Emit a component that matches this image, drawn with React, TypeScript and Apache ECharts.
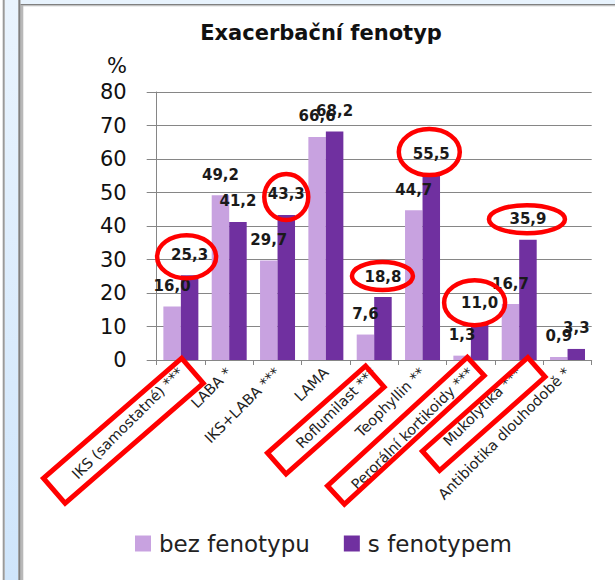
import React, { useEffect, useRef } from "react";
import * as echarts from "echarts";

const categories = [
  "IKS (samostatné) ***",
  "LABA *",
  "IKS+LABA ***",
  "LAMA",
  "Roflumilast ***",
  "Teophyllin **",
  "Perorální kortikoidy ***",
  "Mukolytika ***",
  "Antibiotika dlouhodobě *",
];
const bezFenotypu = [16.0, 49.2, 29.7, 66.6, 7.6, 44.7, 1.3, 16.7, 0.9];
const sFenotypem = [25.3, 41.2, 43.3, 68.2, 18.8, 55.5, 11.0, 35.9, 3.3];
const seriesNames = ["bez fenotypu", "s fenotypem"];
const yMin = 0;
const yMax = 80;
const yStep = 10;
const titleText = "Exacerbační fenotyp";
const yUnit = "%";

// red highlight overlays (category index, offsets relative to the dark-bar label)
const ellipses = [
  { i: 0, dx: -3, dy: 2.5, rx: 29.5, ry: 21.5 },
  { i: 2, dx: 0, dy: 3, rx: 22, ry: 23 },
  { i: 4, dx: -0.5, dy: 0, rx: 30.5, ry: 14 },
  { i: 5, dx: -2, dy: -1, rx: 30.5, ry: 23 },
  { i: 6, dx: -5, dy: 0.5, rx: 30.5, ry: 22.5 },
  { i: 7, dx: -1, dy: 0.5, rx: 38, ry: 14 },
];
const boxes = [
  { i: 0, dx: -57.5, dy: 70.8, w: 183, h: 33, rot: 41 },
  { i: 4, dx: -48.4, dy: 60, w: 131, h: 28, rot: 41.5 },
  { i: 6, dx: -65, dy: 70.8, w: 190, h: 25, rot: 42.6 },
  { i: 7, dx: -35.5, dy: 54, w: 141, h: 26, rot: 41.6 },
];

const FONT = "DejaVu Sans";
const LIGHT = "#c8a2e0";
const DARK = "#7030a0";
const GRID = { left: 156.7, right: 23.3, top: 92, bottom: 220 };
const CAT_GAP = 0.276;

const fmt = (v: number) => v.toFixed(1).replace(".", ",");

function frameGraphics(): any[] {
  return [
    { id: "f1", type: "rect", z: 0, shape: { x: 4.7, y: 0, width: 13.6, height: 580 },
      style: { fill: new echarts.graphic.LinearGradient(0, 0, 0, 1, [
        { offset: 0, color: "#eaf4fe" }, { offset: 1, color: "#cfe5fb" }]) } },
    { id: "f2", type: "rect", z: 0, shape: { x: 2.7, y: 0, width: 2, height: 580 }, style: { fill: "#9a9a9a" } },
    { id: "f3", type: "rect", z: 0, shape: { x: 18.3, y: 0, width: 2.4, height: 580 }, style: { fill: "#808080" } },
    { id: "f4", type: "rect", z: 0, shape: { x: 20.7, y: 0, width: 2.6, height: 580 }, style: { fill: "#b8b8b8" } },
    { id: "f5", type: "rect", z: 0, shape: { x: 20.7, y: 0, width: 600, height: 4 }, style: { fill: "#e8f3fd" } },
    { id: "f6", type: "rect", z: 0, shape: { x: 20.7, y: 4, width: 600, height: 1.2 }, style: { fill: "#808080" } },
    { id: "f7", type: "rect", z: 0, shape: { x: 20.7, y: 5.2, width: 600, height: 1 }, style: { fill: "#b8b8b8" } },
    { id: "pct", type: "text", z: 5, x: 127, y: 66,
      style: { text: yUnit, fill: "#111", font: `21px "${FONT}"`, align: "right", verticalAlign: "middle" } },
  ];
}

export default function App() {
  const ref = useRef<HTMLDivElement>(null);
  useEffect(() => {
    if (!ref.current) return;
    const chart = echarts.init(ref.current, undefined, { renderer: "svg" });
    const labelStyle = {
      show: true,
      position: "top" as const,
      distance: 13,
      formatter: (p: any) => fmt(p.value),
      color: "#1a1a1a",
      fontFamily: FONT,
      fontWeight: "bold" as const,
      fontSize: 15,
    };
    const option: any = {
      animation: false,
      backgroundColor: "#ffffff",
      title: {
        text: titleText,
        left: 321,
        textAlign: "center",
        top: 22,
        padding: 0,
        textStyle: { fontFamily: FONT, fontWeight: "bold", fontSize: 21, color: "#111" },
      },
      legend: {
        data: seriesNames,
        left: 135,
        top: 532,
        padding: 0,
        icon: "rect",
        itemWidth: 16,
        itemHeight: 16,
        itemGap: 34,
        textStyle: { fontFamily: FONT, fontSize: 23, color: "#222", padding: [0, 0, 0, 3] },
      },
      grid: { ...GRID, containLabel: false },
      xAxis: {
        type: "category",
        data: categories,
        axisLine: { lineStyle: { color: "#868686", width: 1 } },
        axisTick: { show: true, length: 5, lineStyle: { color: "#868686" } },
        axisLabel: { rotate: 45, margin: 10, interval: 0, fontFamily: FONT, fontSize: 14.5, color: "#222" },
      },
      yAxis: {
        type: "value",
        min: yMin,
        max: yMax,
        interval: yStep,
        axisLine: { show: true, lineStyle: { color: "#868686", width: 1 } },
        axisTick: { show: true, length: 10, lineStyle: { color: "#868686" } },
        splitLine: { show: true, lineStyle: { color: "#868686", width: 1 } },
        axisLabel: { margin: 30, fontFamily: FONT, fontSize: 21, color: "#111" },
      },
      series: [
        { name: seriesNames[0], type: "bar", data: bezFenotypu, barGap: "0%", barCategoryGap: `${CAT_GAP * 100}%`,
          itemStyle: { color: LIGHT }, label: labelStyle },
        { name: seriesNames[1], type: "bar", data: sFenotypem, barGap: "0%", barCategoryGap: `${CAT_GAP * 100}%`,
          itemStyle: { color: DARK }, label: labelStyle },
      ],
      graphic: frameGraphics(),
    };
    chart.setOption(option);

    const p0 = chart.convertToPixel({ gridIndex: 0 }, [0, 0]) as number[];
    const p1 = chart.convertToPixel({ gridIndex: 0 }, [1, 0]) as number[];
    const band = p1[0] - p0[0];
    const barOff = (band * (1 - CAT_GAP)) / 4;
    const ann: any[] = [];
    ellipses.forEach((e, k) => {
      const pt = chart.convertToPixel({ gridIndex: 0 }, [e.i, sFenotypem[e.i]]) as number[];
      ann.push({
        id: "e" + k, type: "ellipse", z: 100,
        shape: { cx: pt[0] + barOff + e.dx, cy: pt[1] - 21 + e.dy, rx: e.rx, ry: e.ry },
        style: { fill: "none", stroke: "#ff0000", lineWidth: 4.5 },
      });
    });
    boxes.forEach((b, k) => {
      const pt = chart.convertToPixel({ gridIndex: 0 }, [b.i, 0]) as number[];
      ann.push({
        id: "b" + k, type: "rect", z: 100,
        x: pt[0] + b.dx, y: pt[1] + b.dy, rotation: (b.rot * Math.PI) / 180,
        shape: { x: -b.w / 2, y: -b.h / 2, width: b.w, height: b.h },
        style: { fill: "none", stroke: "#ff0000", lineWidth: 5 },
      });
    });
    chart.setOption({ graphic: [...frameGraphics(), ...ann] });
    return () => chart.dispose();
  }, []);
  return (
    <div
      ref={ref}
      style={{ position: "fixed", left: 0, top: 0, width: 615, height: 580, background: "#fff" }}
    />
  );
}
